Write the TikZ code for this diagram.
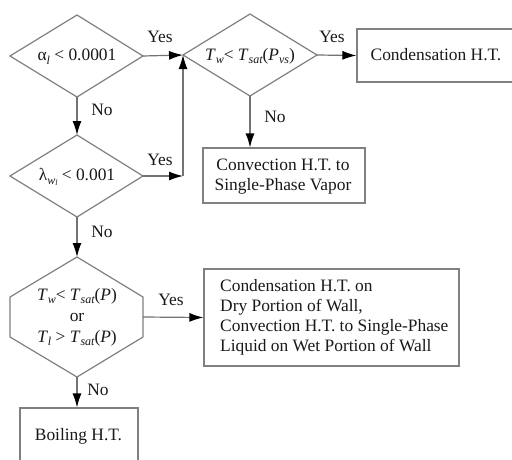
\documentclass[tikz,border=0pt]{standalone}
\usepackage{fontspec}
\setmainfont{Liberation Serif}
\usetikzlibrary{arrows.meta}
\newcommand{\dn}[1]{\raisebox{-0.45ex}{\fontsize{12}{12}\selectfont\itshape #1}}
\newcommand{\ddn}[1]{\raisebox{-0.3ex}{\fontsize{8}{8}\selectfont\itshape #1}}
\begin{document}
\begin{tikzpicture}[x=1pt,y=-1pt,
  shapeline/.style={draw=black!50, line width=1.2pt},
  boxst/.style={draw=black!50, line width=1.2pt, inner sep=0pt},
  conn/.style={draw=black!55, line width=1.2pt, -{Latex[length=14pt,width=9pt,color=black]}},
  lbl/.style={font=\fontsize{17.4}{20}\selectfont, inner sep=0pt, text=black!90},
  txt/.style={font=\fontsize{17.4}{20}\selectfont, inner sep=0pt, align=center, text=black!90}]
\useasboundingbox (0,0) rectangle (512,459);
\clip (0,0) rectangle (512,459);
\fill[white] (0,0) rectangle (512,459);

% diamond 1
\coordinate (d1n) at (77,15); \coordinate (d1s) at (77,97);
\coordinate (d1w) at (10,56); \coordinate (d1e) at (143,56);
\draw[shapeline] (d1w) -- (d1n) -- (d1e) -- (d1s) -- cycle;
\node[txt] (d1) at (77,57) {α\dn{l} < 0.0001};

% diamond 2
\coordinate (d2n) at (77,135); \coordinate (d2s) at (77,217);
\coordinate (d2w) at (10,176); \coordinate (d2e) at (143,176);
\draw[shapeline] (d2w) -- (d2n) -- (d2e) -- (d2s) -- cycle;
\node[txt] (d2) at (77,177) {λ\dn{w\ddn{l}} < 0.001};

% diamond 3
\coordinate (d3n) at (250,14); \coordinate (d3s) at (250,96);
\coordinate (d3w) at (183,55); \coordinate (d3e) at (317,55);
\draw[shapeline] (d3w) -- (d3n) -- (d3e) -- (d3s) -- cycle;
\node[txt] (d3) at (250,56) {\textit{T}\dn{w}< \textit{T}\dn{sat}(\textit{P}\dn{vs})};

% hexagon
\coordinate (hn) at (77,257); \coordinate (hs) at (77,377);
\coordinate (hne) at (143,297); \coordinate (hse) at (143,337);
\coordinate (hnw) at (10,297); \coordinate (hsw) at (10,337);
\coordinate (he) at (143,317);
\draw[shapeline] (hn) -- (hne) -- (hse) -- (hs) -- (hsw) -- (hnw) -- cycle;
\node[txt] (hx) at (77,317) {\textit{T}\dn{w}< \textit{T}\dn{sat}(\textit{P})\\[1pt] or\\[1pt] \textit{T}\dn{l} > \textit{T}\dn{sat}(\textit{P})};

% boxes
\node[boxst, minimum width=173pt, minimum height=53pt] (cb) at (443.5,55.5) {};
\node[txt] (cbt) at (436,55) {Condensation H.T.};

\node[boxst, minimum width=162pt, minimum height=55pt] (vb) at (284,175.5) {};
\node[txt] (vbt) at (283,177) {Convection H.T. to\\Single-Phase Vapor};

\node[boxst, minimum width=255pt, minimum height=97pt] (wb) at (331.5,317.5) {};
\node[txt, align=left, anchor=west] (wbt) at (220,317) {Condensation H.T. on\\Dry Portion of Wall,\\Convection H.T. to Single-Phase\\Liquid on Wet Portion of Wall};

\node[boxst, minimum width=118pt, minimum height=80pt] (bb) at (79,448) {};
\node[txt] (bbt) at (78.5,436) {Boiling H.T.};

% junction
\coordinate (jb) at (183,176);

% connectors
\draw[conn] (d1e) -- (d3w);
\draw[conn] (d1s) -- (d2n);
\draw[conn] (d2e) -- (jb);
\draw[conn] (jb) -- (d3w);
\draw[conn] (d3e) -- (cb.west);
\draw[conn] (d3s) -- (d3s |- vb.north);
\draw[conn] (d2s) -- (hn);
\draw[conn] (he) -- (wb.west);
\draw[conn] (hs) -- (hs |- bb.north);

% labels
\node[lbl] (y1) at (160,37) {Yes};
\node[lbl] (n1) at (102,110) {No};
\node[lbl] (y2) at (160,160) {Yes};
\node[lbl] (y3) at (332,37) {Yes};
\node[lbl] (n3) at (275,117) {No};
\node[lbl] (n2) at (102,232) {No};
\node[lbl] (y4) at (171,300) {Yes};
\node[lbl] (n4) at (98,390) {No};
\end{tikzpicture}
\end{document}
